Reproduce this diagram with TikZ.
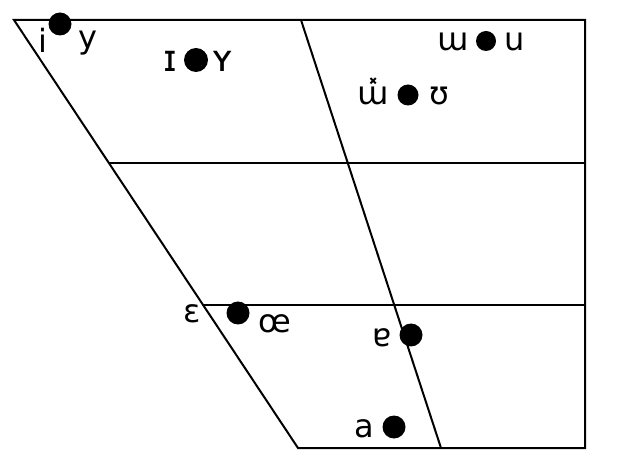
\documentclass[tikz,border=0pt]{standalone}
\usepackage{fontspec}
\setmainfont{DejaVu Sans}
\usetikzlibrary{calc}
\begin{document}
\begin{tikzpicture}[x=1pt,y=-1pt,
  edge/.style={line width=2pt, line join=miter},
  vdot/.style={circle, fill=black, inner sep=0pt, minimum size=23pt},
  vsym/.style={anchor=base, inner sep=0pt, font=\fontsize{32}{36}\selectfont},
  vcap/.style={anchor=base, inner sep=0pt, font=\fontsize{37}{40}\selectfont}]
\useasboundingbox (0,0) rectangle (640,470);
\coordinate (TL) at (14,20);
\coordinate (TM) at (301,20);
\coordinate (TR) at (585,20);
\coordinate (BL) at (298,448);
\coordinate (BM) at (441,448);
\coordinate (BR) at (585,448);
\coordinate (L1) at ($(TL)!1/3!(BL)$);
\coordinate (R1) at ($(TR)!1/3!(BR)$);
\coordinate (L2) at ($(TL)!2/3!(BL)$);
\coordinate (R2) at ($(TR)!2/3!(BR)$);
\draw[edge] (TL) -- (TR) -- (BR) -- (BL) -- cycle;
\draw[edge] (TM) -- (BM);
\draw[edge] (L1) -- (R1);
\draw[edge] (L2) -- (R2);
% dots
\node[vdot] (d1) at (60,24) {};
\node[vdot, minimum size=24pt] (d2) at (196,60) {};
\node[vdot, minimum size=20pt] (d3) at (486,41) {};
\node[vdot, minimum size=21pt] (d4) at (408,95) {};
\node[vdot] (d5) at (238,313) {};
\node[vdot] (d6) at (411,335) {};
\node[vdot] (d7) at (394,427) {};
% symbols
\node[vsym] (s1) at (43,53) {i};
\node[vsym] (s2) at (88,49) {y};
\node[vcap] (s3) at (170,72) {ɪ};
\node[vcap] (s4) at (223,72) {ʏ};
\node[vsym] (s5) at (453,51) {ɯ};
\node[vsym] (s6) at (515,51) {u};
\node[vsym] (s7) at (373,105) {ɯ̽};
\node[vsym] (s8) at (439,105) {ʊ};
\node[vsym] (s9) at (192,323) {ɛ};
\node[vsym] (s10) at (275,333) {œ};
\node[vsym] (s11) at (382,347) {ɐ};
\node[vsym] (s12) at (364,437) {a};
\end{tikzpicture}
\end{document}
